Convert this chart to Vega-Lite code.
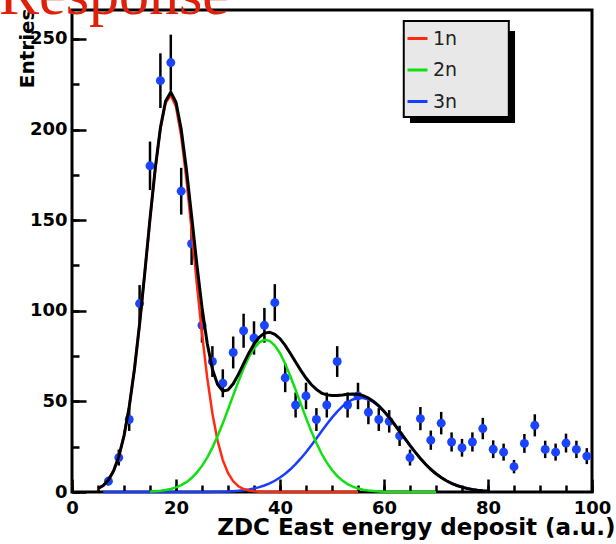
{
  "$schema": "https://vega.github.io/schema/vega-lite/v6.json",
  "width": 520,
  "height": 482,
  "autosize": {"type": "none"},
  "padding": {"left": 72, "top": 10, "right": 24, "bottom": 52},
  "background": "white",
  "title": {
    "text": "Response",
    "font": "Liberation Serif",
    "fontSize": 60,
    "fontWeight": "normal",
    "color": "#e0200a",
    "anchor": "start",
    "frame": "group",
    "baseline": "alphabetic",
    "offset": 0,
    "dx": -73,
    "dy": 66
  },
  "config": {
    "view": {"stroke": "black", "strokeWidth": 3},
    "axis": {"grid": false, "domain": false, "tickColor": "black", "tickWidth": 2.5, "zindex": 1},
    "legend": {"padding": 0}
  },
  "resolve": {"axis": {"x": "independent", "y": "independent"}},
  "datasets": {
    "hist": [
      {"x": 7, "y": 6, "lo": 3.6, "hi": 8.4},
      {"x": 9, "y": 19, "lo": 14.6, "hi": 23.4},
      {"x": 11, "y": 40, "lo": 33.7, "hi": 46.3},
      {"x": 13, "y": 104, "lo": 93.8, "hi": 114.2},
      {"x": 15, "y": 180, "lo": 166.6, "hi": 193.4},
      {"x": 17, "y": 227, "lo": 211.9, "hi": 242.1},
      {"x": 19, "y": 237, "lo": 221.6, "hi": 252.4},
      {"x": 21, "y": 166, "lo": 153.1, "hi": 178.9},
      {"x": 23, "y": 137, "lo": 125.3, "hi": 148.7},
      {"x": 25, "y": 92, "lo": 82.4, "hi": 101.6},
      {"x": 27, "y": 72, "lo": 63.5, "hi": 80.5},
      {"x": 29, "y": 60, "lo": 52.3, "hi": 67.7},
      {"x": 31, "y": 77, "lo": 68.2, "hi": 85.8},
      {"x": 33, "y": 89, "lo": 79.6, "hi": 98.4},
      {"x": 35, "y": 85, "lo": 75.8, "hi": 94.2},
      {"x": 37, "y": 92, "lo": 82.4, "hi": 101.6},
      {"x": 39, "y": 104.5, "lo": 94.3, "hi": 114.7},
      {"x": 41, "y": 63, "lo": 55.1, "hi": 70.9},
      {"x": 43, "y": 48, "lo": 41.1, "hi": 54.9},
      {"x": 45, "y": 53, "lo": 45.7, "hi": 60.3},
      {"x": 47, "y": 40, "lo": 33.7, "hi": 46.3},
      {"x": 49, "y": 48, "lo": 41.1, "hi": 54.9},
      {"x": 51, "y": 72, "lo": 63.5, "hi": 80.5},
      {"x": 53, "y": 48, "lo": 41.1, "hi": 54.9},
      {"x": 55, "y": 53, "lo": 45.7, "hi": 60.3},
      {"x": 57, "y": 44, "lo": 37.4, "hi": 50.6},
      {"x": 59, "y": 40, "lo": 33.7, "hi": 46.3},
      {"x": 61, "y": 39, "lo": 32.8, "hi": 45.2},
      {"x": 63, "y": 31, "lo": 25.4, "hi": 36.6},
      {"x": 65, "y": 19, "lo": 14.6, "hi": 23.4},
      {"x": 67, "y": 40.5, "lo": 34.1, "hi": 46.9},
      {"x": 69, "y": 28.6, "lo": 23.3, "hi": 33.9},
      {"x": 71, "y": 38, "lo": 31.8, "hi": 44.2},
      {"x": 73, "y": 27.6, "lo": 22.3, "hi": 32.9},
      {"x": 75, "y": 24.4, "lo": 19.5, "hi": 29.3},
      {"x": 77, "y": 27.6, "lo": 22.3, "hi": 32.9},
      {"x": 79, "y": 35, "lo": 29.1, "hi": 40.9},
      {"x": 81, "y": 23.6, "lo": 18.7, "hi": 28.5},
      {"x": 83, "y": 22, "lo": 17.3, "hi": 26.7},
      {"x": 85, "y": 14, "lo": 10.3, "hi": 17.7},
      {"x": 87, "y": 26.8, "lo": 21.6, "hi": 32.0},
      {"x": 89, "y": 36.8, "lo": 30.7, "hi": 42.9},
      {"x": 91, "y": 23.5, "lo": 18.7, "hi": 28.3},
      {"x": 93, "y": 22, "lo": 17.3, "hi": 26.7},
      {"x": 95, "y": 27, "lo": 21.8, "hi": 32.2},
      {"x": 97, "y": 23.5, "lo": 18.7, "hi": 28.3},
      {"x": 99, "y": 19.8, "lo": 15.4, "hi": 24.2}
    ],
    "c1": [
      {"x": 5, "y": 1.86}, {"x": 6, "y": 3.6}, {"x": 7, "y": 6.63}, {"x": 8, "y": 11.65}, {"x": 9, "y": 19.5},
      {"x": 10, "y": 31.0}, {"x": 11, "y": 46.9}, {"x": 12, "y": 67.6}, {"x": 13, "y": 92.7}, {"x": 14, "y": 121.1},
      {"x": 15, "y": 150.4}, {"x": 16, "y": 177.9}, {"x": 17, "y": 200.3}, {"x": 18, "y": 214.7}, {"x": 19, "y": 219.0},
      {"x": 20, "y": 212.6}, {"x": 21, "y": 196.4}, {"x": 22, "y": 172.7}, {"x": 23, "y": 144.6}, {"x": 24, "y": 115.2},
      {"x": 25, "y": 87.4}, {"x": 26, "y": 63.1}, {"x": 27, "y": 43.3}, {"x": 28, "y": 28.3}, {"x": 29, "y": 17.6},
      {"x": 30, "y": 10.5}, {"x": 31, "y": 5.9}, {"x": 32, "y": 3.16}, {"x": 33, "y": 1.62}, {"x": 34, "y": 0.79},
      {"x": 35, "y": 0.36}, {"x": 36, "y": 0.16}, {"x": 37, "y": 0.07}, {"x": 40, "y": 0}, {"x": 45, "y": 0},
      {"x": 50, "y": 0}, {"x": 55, "y": 0}
    ],
    "c2": [
      {"x": 15, "y": 0.25}, {"x": 16, "y": 0.41}, {"x": 17, "y": 0.67}, {"x": 18, "y": 1.07}, {"x": 19, "y": 1.67},
      {"x": 20, "y": 2.53}, {"x": 21, "y": 3.76}, {"x": 22, "y": 5.45}, {"x": 23, "y": 7.73}, {"x": 24, "y": 10.7},
      {"x": 25, "y": 14.4}, {"x": 26, "y": 19.0}, {"x": 27, "y": 24.5}, {"x": 28, "y": 30.9}, {"x": 29, "y": 37.9},
      {"x": 30, "y": 45.5}, {"x": 31, "y": 53.3}, {"x": 32, "y": 61.0}, {"x": 33, "y": 68.2}, {"x": 34, "y": 74.4},
      {"x": 35, "y": 79.3}, {"x": 36, "y": 82.6}, {"x": 37, "y": 84.0}, {"x": 38, "y": 83.4}, {"x": 39, "y": 80.8},
      {"x": 40, "y": 76.6}, {"x": 41, "y": 70.8}, {"x": 42, "y": 63.9}, {"x": 43, "y": 56.4}, {"x": 44, "y": 48.6},
      {"x": 45, "y": 40.9}, {"x": 46, "y": 33.6}, {"x": 47, "y": 27.0}, {"x": 48, "y": 21.1}, {"x": 49, "y": 16.2},
      {"x": 50, "y": 12.1}, {"x": 51, "y": 8.82}, {"x": 52, "y": 6.29}, {"x": 53, "y": 4.38}, {"x": 54, "y": 2.98},
      {"x": 55, "y": 1.97}, {"x": 56, "y": 1.28}, {"x": 57, "y": 0.81}, {"x": 58, "y": 0.5}, {"x": 59, "y": 0.3},
      {"x": 60, "y": 0.18}, {"x": 62, "y": 0.06}, {"x": 65, "y": 0.01}, {"x": 70, "y": 0}
    ],
    "c3": [
      {"x": 6, "y": 0}, {"x": 15, "y": 0}, {"x": 24, "y": 0.02}, {"x": 26, "y": 0.06}, {"x": 28, "y": 0.14},
      {"x": 30, "y": 0.32}, {"x": 31, "y": 0.48}, {"x": 32, "y": 0.7}, {"x": 33, "y": 1.0}, {"x": 34, "y": 1.41},
      {"x": 35, "y": 1.95}, {"x": 36, "y": 2.67}, {"x": 37, "y": 3.59}, {"x": 38, "y": 4.75}, {"x": 39, "y": 6.2},
      {"x": 40, "y": 7.96}, {"x": 41, "y": 10.06}, {"x": 42, "y": 12.52}, {"x": 43, "y": 15.34}, {"x": 44, "y": 18.51},
      {"x": 45, "y": 21.98}, {"x": 46, "y": 25.69}, {"x": 47, "y": 29.57}, {"x": 48, "y": 33.51}, {"x": 49, "y": 37.38},
      {"x": 50, "y": 41.05}, {"x": 51, "y": 44.39}, {"x": 52, "y": 47.25}, {"x": 53, "y": 49.52}, {"x": 54, "y": 51.09},
      {"x": 55, "y": 51.9}, {"x": 56, "y": 51.9}, {"x": 57, "y": 51.09}, {"x": 58, "y": 49.52}, {"x": 59, "y": 47.25},
      {"x": 60, "y": 44.39}, {"x": 61, "y": 41.05}, {"x": 62, "y": 37.38}, {"x": 63, "y": 33.51}, {"x": 64, "y": 29.57},
      {"x": 65, "y": 25.69}, {"x": 66, "y": 21.98}, {"x": 67, "y": 18.51}, {"x": 68, "y": 15.34}, {"x": 69, "y": 12.52},
      {"x": 70, "y": 10.06}, {"x": 71, "y": 7.96}, {"x": 72, "y": 6.2}, {"x": 73, "y": 4.75}, {"x": 74, "y": 3.59},
      {"x": 75, "y": 2.67}, {"x": 76, "y": 1.95}, {"x": 77, "y": 1.41}, {"x": 78, "y": 1.0}, {"x": 79, "y": 0.7},
      {"x": 80, "y": 0.48}
    ],
    "fit": [
      {"x": 5, "y": 1.9}, {"x": 6, "y": 3.6}, {"x": 7, "y": 6.6}, {"x": 8, "y": 11.7}, {"x": 9, "y": 19.5},
      {"x": 10, "y": 31.0}, {"x": 11, "y": 46.9}, {"x": 12, "y": 67.6}, {"x": 13, "y": 92.7}, {"x": 14, "y": 121.1},
      {"x": 15, "y": 150.7}, {"x": 16, "y": 178.3}, {"x": 17, "y": 201.0}, {"x": 18, "y": 215.8}, {"x": 19, "y": 220.7},
      {"x": 20, "y": 215.1}, {"x": 21, "y": 200.2}, {"x": 22, "y": 178.2}, {"x": 23, "y": 152.3}, {"x": 24, "y": 125.9},
      {"x": 25, "y": 101.8}, {"x": 26, "y": 82.1}, {"x": 27, "y": 67.8}, {"x": 28, "y": 59.3}, {"x": 29, "y": 55.7},
      {"x": 30, "y": 56.3}, {"x": 31, "y": 59.7}, {"x": 32, "y": 64.9}, {"x": 33, "y": 70.8}, {"x": 34, "y": 76.6},
      {"x": 35, "y": 81.6}, {"x": 36, "y": 85.4}, {"x": 37, "y": 87.7}, {"x": 38, "y": 88.2}, {"x": 39, "y": 87.0},
      {"x": 40, "y": 84.6}, {"x": 41, "y": 80.9}, {"x": 42, "y": 76.4}, {"x": 43, "y": 71.7}, {"x": 44, "y": 67.1},
      {"x": 45, "y": 62.9}, {"x": 46, "y": 59.3}, {"x": 47, "y": 56.6}, {"x": 48, "y": 54.6}, {"x": 49, "y": 53.6},
      {"x": 50, "y": 53.2}, {"x": 51, "y": 53.2}, {"x": 52, "y": 53.5}, {"x": 53, "y": 53.9}, {"x": 54, "y": 54.1},
      {"x": 55, "y": 53.9}, {"x": 56, "y": 53.2}, {"x": 57, "y": 51.9}, {"x": 58, "y": 50.0}, {"x": 59, "y": 47.6},
      {"x": 60, "y": 44.6}, {"x": 61, "y": 41.2}, {"x": 62, "y": 37.4}, {"x": 63, "y": 33.5}, {"x": 64, "y": 29.6},
      {"x": 65, "y": 25.7}, {"x": 66, "y": 22.0}, {"x": 67, "y": 18.5}, {"x": 68, "y": 15.3}, {"x": 69, "y": 12.5},
      {"x": 70, "y": 10.1}, {"x": 71, "y": 8.0}, {"x": 72, "y": 6.2}, {"x": 73, "y": 4.75}, {"x": 74, "y": 3.6},
      {"x": 75, "y": 2.7}, {"x": 76, "y": 1.95}, {"x": 77, "y": 1.4}, {"x": 78, "y": 1.0}, {"x": 79, "y": 0.7},
      {"x": 80, "y": 0.5}
    ]
  },
  "layer": [
    {
      "data": {"name": "hist"},
      "mark": {"type": "rule", "color": "black", "strokeWidth": 2.5},
      "encoding": {
        "x": {
          "field": "x", "type": "quantitative",
          "scale": {"domain": [0, 100], "nice": false, "zero": false},
          "axis": {
            "orient": "bottom",
            "values": [0, 20, 40, 60, 80, 100],
            "offset": -13,
            "tickSize": 13,
            "labelPadding": 7,
            "labelFont": "DejaVu Sans", "labelFontWeight": "bold", "labelFontSize": 18, "labelColor": "black",
            "labelFlush": false, "labelOverlap": false,
            "title": "ZDC East energy deposit (a.u.)",
            "titleFont": "DejaVu Sans", "titleFontWeight": "bold", "titleFontSize": 23, "titleColor": "black",
            "titleAnchor": "end", "titleAlign": "right", "titleBaseline": "alphabetic",
            "titleX": 543, "titleY": 55
          }
        },
        "y": {
          "field": "lo", "type": "quantitative",
          "scale": {"domain": [0, 266], "nice": false},
          "axis": {
            "orient": "left",
            "values": [0, 50, 100, 150, 200, 250],
            "offset": -14,
            "tickSize": 14,
            "labelPadding": 5,
            "labelFont": "DejaVu Sans", "labelFontWeight": "bold", "labelFontSize": 18, "labelColor": "black",
            "labelFlush": false, "labelOverlap": false,
            "title": "Entries",
            "titleFont": "DejaVu Sans", "titleFontWeight": "bold", "titleFontSize": 20, "titleColor": "black",
            "titleAngle": -90, "titleAnchor": "end", "titleAlign": "right", "titleBaseline": "alphabetic",
            "titleX": -53, "titleY": -2
          }
        },
        "y2": {"field": "hi"}
      }
    },
    {
      "data": {"name": "hist"},
      "mark": {"type": "circle", "color": "#1a44ff", "opacity": 1, "size": 80},
      "encoding": {
        "x": {
          "field": "x", "type": "quantitative",
          "axis": {
            "orient": "bottom",
            "values": [0, 5, 10, 15, 20, 25, 30, 35, 40, 45, 50, 55, 60, 65, 70, 75, 80, 85, 90, 95, 100],
            "offset": -7, "tickSize": 7, "labels": false, "title": null
          }
        },
        "y": {
          "field": "y", "type": "quantitative",
          "axis": {
            "orient": "left",
            "values": [0, 25, 50, 75, 100, 125, 150, 175, 200, 225, 250],
            "offset": -7, "tickSize": 7, "labels": false, "title": null
          }
        }
      }
    },
    {
      "data": {"name": "c3"},
      "mark": {"type": "line", "strokeWidth": 2.5, "interpolate": "linear"},
      "encoding": {
        "x": {"field": "x", "type": "quantitative", "axis": null},
        "y": {"field": "y", "type": "quantitative", "axis": null},
        "color": {
          "datum": "3n", "type": "nominal",
          "scale": {"domain": ["1n", "2n", "3n"], "range": ["#ff2a10", "#10e010", "#1a3cff"]},
          "legend": {
            "title": null,
            "orient": "none",
            "legendX": 334,
            "legendY": 17,
            "symbolType": "stroke",
            "symbolSize": 400,
            "symbolStrokeWidth": 3,
            "labelFont": "DejaVu Sans",
            "labelFontSize": 19,
            "labelColor": "#222222",
            "labelOffset": 4,
            "rowPadding": 9.5
          }
        }
      }
    },
    {
      "data": {"name": "c1"},
      "mark": {"type": "line", "strokeWidth": 2.5},
      "encoding": {
        "x": {"field": "x", "type": "quantitative", "axis": null},
        "y": {"field": "y", "type": "quantitative", "axis": null},
        "color": {"datum": "1n", "type": "nominal"}
      }
    },
    {
      "data": {"name": "c2"},
      "mark": {"type": "line", "strokeWidth": 2.5},
      "encoding": {
        "x": {"field": "x", "type": "quantitative", "axis": null},
        "y": {"field": "y", "type": "quantitative", "axis": null},
        "color": {"datum": "2n", "type": "nominal"}
      }
    },
    {
      "data": {"name": "fit"},
      "mark": {"type": "line", "strokeWidth": 3, "color": "black"},
      "encoding": {
        "x": {"field": "x", "type": "quantitative", "axis": null},
        "y": {"field": "y", "type": "quantitative", "axis": null}
      }
    },
    {
      "data": {"values": [{}]},
      "mark": {"type": "rect", "color": "black"},
      "encoding": {
        "x": {"datum": 65.0, "type": "quantitative", "axis": null},
        "x2": {"datum": 85.2},
        "y": {"datum": 254.4, "type": "quantitative", "axis": null},
        "y2": {"datum": 203.6}
      }
    },
    {
      "data": {"values": [{}]},
      "mark": {"type": "rect", "fill": "#e8e8e8", "stroke": "black", "strokeWidth": 2},
      "encoding": {
        "x": {"datum": 63.8, "type": "quantitative", "axis": null},
        "x2": {"datum": 84.0},
        "y": {"datum": 259.9, "type": "quantitative", "axis": null},
        "y2": {"datum": 207.0}
      }
    }
  ]
}
